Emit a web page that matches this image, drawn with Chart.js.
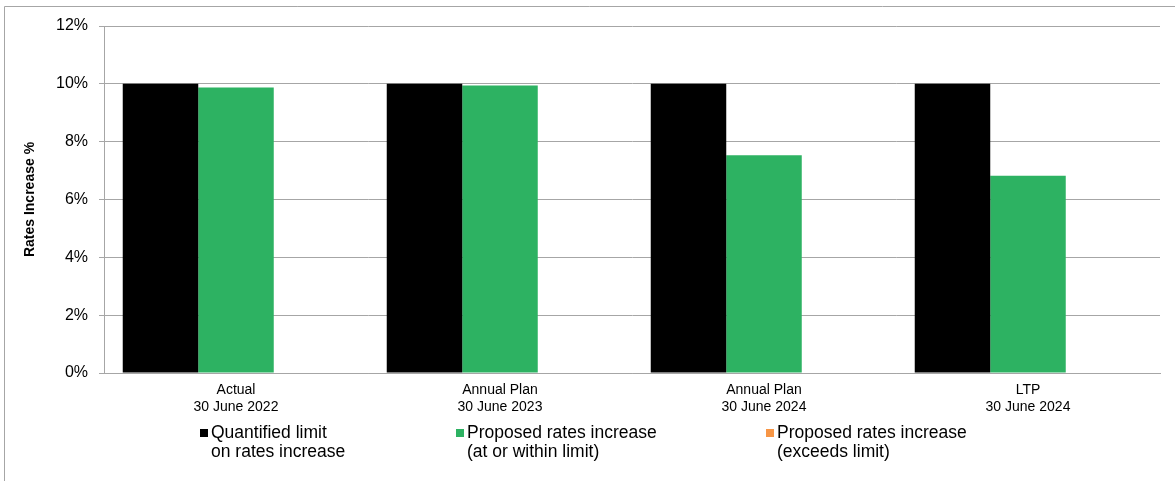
<!DOCTYPE html>
<html>
<head>
<meta charset="utf-8">
<script src="https://cdn.jsdelivr.net/npm/chart.js@4"></script>
<style>
  html, body { margin: 0; padding: 0; background: #fff; }
  #wrap { width: 1175px; height: 481px; position: relative; }
</style>
</head>
<body>
<div id="wrap"><canvas id="myChart"></canvas></div>
<script>
// chart values
const categories = [
  ['Actual', '30 June 2022'],
  ['Annual Plan', '30 June 2023'],
  ['Annual Plan', '30 June 2024'],
  ['LTP', '30 June 2024']
];
const limitValues = [10, 10, 10, 10];
const withinValues = [9.87, 9.94, 7.53, 6.82];
const exceedsValues = [null, null, null, null];
const seriesLabels = [
  ['Quantified limit', 'on rates increase'],
  ['Proposed rates increase', '(at or within limit)'],
  ['Proposed rates increase', '(exceeds limit)']
];
const yTicks = [0, 2, 4, 6, 8, 10, 12];

const FONT = '"Liberation Sans", Arial, sans-serif';

// outer frame (left + top edges only visible)
const framePlugin = {
  id: 'frame',
  beforeDraw(chart) {
    const ctx = chart.ctx;
    ctx.save();
    ctx.strokeStyle = '#a6a6a6';
    ctx.lineWidth = 1;
    ctx.beginPath();
    ctx.moveTo(4.5, chart.height);
    ctx.lineTo(4.5, 6.5);
    ctx.lineTo(chart.width, 6.5);
    ctx.stroke();
    ctx.restore();
  }
};

// legend with two-line labels
const legendPlugin = {
  id: 'twoLineLegend',
  afterDraw(chart) {
    const ctx = chart.ctx;
    const xs = [200, 456, 766];
    ctx.save();
    ctx.font = '17.5px ' + FONT;
    ctx.textBaseline = 'alphabetic';
    ctx.fillStyle = '#000';
    chart.data.datasets.forEach((ds, i) => {
      const x = xs[i];
      ctx.fillStyle = ds.backgroundColor;
      ctx.fillRect(x, 429, 8, 8);
      ctx.fillStyle = '#000';
      ds.label.forEach((line, j) => {
        ctx.fillText(line, x + 11, 437.5 + j * 19);
      });
    });
    ctx.restore();
  }
};

new Chart(document.getElementById('myChart').getContext('2d'), {
  type: 'bar',
  data: {
    labels: categories,
    datasets: [
      { label: seriesLabels[0], data: limitValues, backgroundColor: '#000000' },
      { label: seriesLabels[1], data: withinValues, backgroundColor: '#2db262' },
      { label: seriesLabels[2], data: exceedsValues, backgroundColor: '#f79646' }
    ]
  },
  options: {
    responsive: true,
    maintainAspectRatio: false,
    animation: false,
    layout: { padding: { left: 0, right: 15, top: 26, bottom: 0 } },
    datasets: { bar: { categoryPercentage: 0.858, barPercentage: 1.0 } },
    plugins: {
      legend: { display: false },
      tooltip: { enabled: false }
    },
    scales: {
      x: {
        grid: { display: false, drawTicks: false },
        border: { display: true, color: '#a6a6a6', width: 1 },
        ticks: {
          color: '#000',
          font: { family: FONT, size: 14, lineHeight: 1.2 },
          padding: 9,
          maxRotation: 0,
          autoSkip: false
        },
        afterFit(s) { s.height = 108; }
      },
      y: {
        min: 0,
        max: 12,
        afterBuildTicks(s) { s.ticks = yTicks.map(v => ({ value: v })); },
        grid: { color: '#a6a6a6', lineWidth: 1, tickLength: 5, drawTicks: true },
        border: { display: true, color: '#a6a6a6', width: 1 },
        ticks: {
          color: '#000',
          font: { family: FONT, size: 16 },
          padding: 11,
          callback: v => v + '%'
        },
        title: {
          display: true,
          text: 'Rates Increase %',
          color: '#000',
          font: { family: FONT, size: 14, weight: 'bold' },
          padding: { top: 22, bottom: 0 }
        },
        afterFit(s) { s.width = 104; }
      }
    }
  },
  plugins: [framePlugin, legendPlugin]
});
</script>
</body>
</html>
